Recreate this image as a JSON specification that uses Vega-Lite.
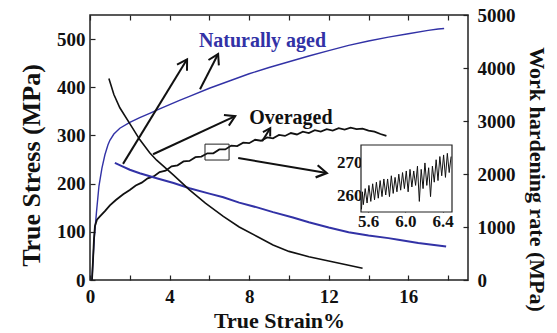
{
  "$schema": "https://vega.github.io/schema/vega-lite/v6.json",
  "width": 378,
  "height": 265,
  "autosize": "none",
  "padding": {"left": 90, "top": 15, "right": 89, "bottom": 53},
  "background": "white",
  "config": {
    "font": "Liberation Serif",
    "view": {"stroke": "#222222", "strokeWidth": 1.5},
    "axis": {
      "grid": false, "domain": false, "tickColor": "#222222", "tickSize": -5, "tickWidth": 1.2,
      "labelColor": "#111111", "titleColor": "#111111",
      "labelFont": "Liberation Serif", "titleFont": "Liberation Serif",
      "labelFontWeight": "bold", "titleFontWeight": "bold",
      "labelFontSize": 19, "titleFontSize": 22,
      "labelOverlap": false, "labelFlush": false
    }
  },
  "datasets": {
    "na_stress": [
      {"strain": 0.1, "stress": 0}, {"strain": 0.15, "stress": 40}, {"strain": 0.22, "stress": 90},
      {"strain": 0.33, "stress": 143}, {"strain": 0.45, "stress": 195}, {"strain": 0.6, "stress": 232},
      {"strain": 0.75, "stress": 260}, {"strain": 0.9, "stress": 280}, {"strain": 1.0, "stress": 290},
      {"strain": 1.2, "stress": 303}, {"strain": 1.5, "stress": 315}, {"strain": 2.0, "stress": 327},
      {"strain": 2.5, "stress": 337}, {"strain": 3.0, "stress": 346}, {"strain": 3.5, "stress": 355},
      {"strain": 4.0, "stress": 364}, {"strain": 4.5, "stress": 373}, {"strain": 5.0, "stress": 381},
      {"strain": 6.0, "stress": 398}, {"strain": 7.0, "stress": 413}, {"strain": 8.0, "stress": 428},
      {"strain": 9.0, "stress": 441}, {"strain": 10.0, "stress": 453}, {"strain": 11.0, "stress": 465},
      {"strain": 12.0, "stress": 476}, {"strain": 13.0, "stress": 487}, {"strain": 14.0, "stress": 496},
      {"strain": 15.0, "stress": 504}, {"strain": 16.0, "stress": 511}, {"strain": 17.0, "stress": 518},
      {"strain": 17.5, "stress": 521}, {"strain": 17.8, "stress": 522}
    ],
    "oa_stress": [
      {"strain": 0.1, "stress": 0}, {"strain": 0.15, "stress": 40}, {"strain": 0.2, "stress": 85},
      {"strain": 0.25, "stress": 112}, {"strain": 0.35, "stress": 125}, {"strain": 0.5, "stress": 132},
      {"strain": 0.75, "stress": 143}, {"strain": 1.0, "stress": 155}, {"strain": 1.3, "stress": 166},
      {"strain": 1.67, "stress": 178}, {"strain": 2.0, "stress": 187}, {"strain": 2.3, "stress": 196},
      {"strain": 2.6, "stress": 202}, {"strain": 2.9, "stress": 211}, {"strain": 3.2, "stress": 215},
      {"strain": 3.5, "stress": 224}, {"strain": 3.8, "stress": 227}, {"strain": 4.1, "stress": 236},
      {"strain": 4.4, "stress": 238}, {"strain": 4.7, "stress": 246}, {"strain": 5.0, "stress": 247},
      {"strain": 5.3, "stress": 255}, {"strain": 5.6, "stress": 256}, {"strain": 5.9, "stress": 263},
      {"strain": 6.2, "stress": 263}, {"strain": 6.5, "stress": 271}, {"strain": 6.8, "stress": 271},
      {"strain": 7.1, "stress": 279}, {"strain": 7.4, "stress": 278}, {"strain": 7.7, "stress": 285},
      {"strain": 8.0, "stress": 284}, {"strain": 8.3, "stress": 291}, {"strain": 8.6, "stress": 289},
      {"strain": 8.9, "stress": 296}, {"strain": 9.2, "stress": 294}, {"strain": 9.5, "stress": 301},
      {"strain": 9.8, "stress": 299}, {"strain": 10.1, "stress": 305}, {"strain": 10.4, "stress": 302},
      {"strain": 10.7, "stress": 308}, {"strain": 11.0, "stress": 305}, {"strain": 11.3, "stress": 311},
      {"strain": 11.6, "stress": 308}, {"strain": 11.9, "stress": 313}, {"strain": 12.2, "stress": 310},
      {"strain": 12.5, "stress": 315}, {"strain": 12.8, "stress": 312}, {"strain": 13.1, "stress": 316},
      {"strain": 13.4, "stress": 313}, {"strain": 13.7, "stress": 314}, {"strain": 14.0, "stress": 310},
      {"strain": 14.3, "stress": 308}, {"strain": 14.6, "stress": 303}, {"strain": 14.9, "stress": 299}
    ],
    "na_whr": [
      {"strain": 1.25, "rate": 2210}, {"strain": 1.6, "rate": 2150}, {"strain": 2.0, "rate": 2080},
      {"strain": 2.5, "rate": 2015}, {"strain": 3.35, "rate": 1920}, {"strain": 4.2, "rate": 1830},
      {"strain": 5.0, "rate": 1730}, {"strain": 6.0, "rate": 1630}, {"strain": 6.7, "rate": 1560},
      {"strain": 7.5, "rate": 1460}, {"strain": 8.4, "rate": 1370}, {"strain": 9.2, "rate": 1280},
      {"strain": 10.2, "rate": 1180}, {"strain": 11.0, "rate": 1090}, {"strain": 12.0, "rate": 990},
      {"strain": 13.0, "rate": 900}, {"strain": 14.0, "rate": 840}, {"strain": 15.0, "rate": 790},
      {"strain": 15.5, "rate": 760}, {"strain": 16.5, "rate": 700}, {"strain": 17.9, "rate": 630}
    ],
    "oa_whr": [
      {"strain": 0.95, "rate": 3800}, {"strain": 1.2, "rate": 3500}, {"strain": 1.5, "rate": 3250},
      {"strain": 2.0, "rate": 2950}, {"strain": 2.5, "rate": 2650}, {"strain": 3.0, "rate": 2400},
      {"strain": 3.35, "rate": 2260}, {"strain": 4.2, "rate": 1980}, {"strain": 5.0, "rate": 1700},
      {"strain": 5.8, "rate": 1450}, {"strain": 6.7, "rate": 1200}, {"strain": 7.5, "rate": 1000},
      {"strain": 8.4, "rate": 820}, {"strain": 9.2, "rate": 660}, {"strain": 10.0, "rate": 540},
      {"strain": 11.0, "rate": 440}, {"strain": 12.0, "rate": 360}, {"strain": 13.0, "rate": 280},
      {"strain": 13.7, "rate": 220}
    ],
    "arrows": [
      {"id": "A", "x1": 1.66, "y1": 241, "x2": 4.88, "y2": 458},
      {"id": "B", "x1": 5.53, "y1": 396, "x2": 6.44, "y2": 469},
      {"id": "C", "x1": 3.17, "y1": 261, "x2": 7.3, "y2": 340},
      {"id": "D", "x1": 8.65, "y1": 288, "x2": 9.06, "y2": 315},
      {"id": "E", "x1": 7.45, "y1": 253, "x2": 11.9, "y2": 222}
    ],
    "inset": [
      {"strain": 5.53, "stress": 255.5}, {"strain": 5.54, "stress": 261}, {"strain": 5.55, "stress": 257},
      {"strain": 5.57, "stress": 262}, {"strain": 5.59, "stress": 257.5}, {"strain": 5.61, "stress": 263},
      {"strain": 5.63, "stress": 258}, {"strain": 5.65, "stress": 263.5}, {"strain": 5.67, "stress": 258.5},
      {"strain": 5.69, "stress": 264}, {"strain": 5.71, "stress": 259}, {"strain": 5.73, "stress": 264.5},
      {"strain": 5.75, "stress": 259.5}, {"strain": 5.77, "stress": 265}, {"strain": 5.79, "stress": 260},
      {"strain": 5.81, "stress": 265}, {"strain": 5.83, "stress": 259.5}, {"strain": 5.85, "stress": 266},
      {"strain": 5.87, "stress": 260.5}, {"strain": 5.89, "stress": 265.5}, {"strain": 5.91, "stress": 261},
      {"strain": 5.93, "stress": 266.5}, {"strain": 5.95, "stress": 261.5}, {"strain": 5.97, "stress": 267},
      {"strain": 5.99, "stress": 262}, {"strain": 6.01, "stress": 267.5}, {"strain": 6.03, "stress": 261},
      {"strain": 6.05, "stress": 268}, {"strain": 6.07, "stress": 262.5}, {"strain": 6.09, "stress": 267.5},
      {"strain": 6.11, "stress": 263}, {"strain": 6.13, "stress": 269}, {"strain": 6.15, "stress": 258},
      {"strain": 6.17, "stress": 268}, {"strain": 6.19, "stress": 262}, {"strain": 6.21, "stress": 270},
      {"strain": 6.23, "stress": 263}, {"strain": 6.25, "stress": 268.5}, {"strain": 6.27, "stress": 259.5},
      {"strain": 6.29, "stress": 269}, {"strain": 6.31, "stress": 264}, {"strain": 6.33, "stress": 271},
      {"strain": 6.35, "stress": 264.5}, {"strain": 6.37, "stress": 272}, {"strain": 6.39, "stress": 266},
      {"strain": 6.41, "stress": 272.5}, {"strain": 6.43, "stress": 265.5}, {"strain": 6.45, "stress": 273},
      {"strain": 6.47, "stress": 267}, {"strain": 6.49, "stress": 272}
    ]
  },
  "layer": [
    {
      "layer": [
        {
          "layer": [
            {
              "data": {"name": "na_stress"},
              "mark": {"type": "line", "color": "#3232a6", "strokeWidth": 1.4},
              "encoding": {
                "x": {"field": "strain", "type": "quantitative", "scale": {"domain": [0, 19], "nice": false},
                  "axis": {"orient": "bottom", "values": [0, 2, 4, 6, 8, 10, 12, 14, 16, 18],
                    "labelExpr": "datum.value % 4 === 0 ? datum.label : ''", "labelPadding": 12,
                    "title": "True Strain%", "titleFontSize": 22, "titlePadding": 4}},
                "y": {"field": "stress", "type": "quantitative", "scale": {"domain": [0, 550], "nice": false},
                  "axis": {"orient": "left", "values": [0, 50, 100, 150, 200, 250, 300, 350, 400, 450, 500],
                    "labelExpr": "datum.value % 100 === 0 ? datum.label : ''", "labelPadding": 10,
                    "title": "True Stress (MPa)", "titleFontSize": 26, "titlePadding": 12, "titleY": 150}}
              }
            },
            {
              "data": {"name": "oa_stress"},
              "mark": {"type": "line", "color": "#111111", "strokeWidth": 1.8},
              "encoding": {
                "x": {"field": "strain", "type": "quantitative"},
                "y": {"field": "stress", "type": "quantitative"}
              }
            },
            {
              "data": {"name": "arrows"},
              "mark": {"type": "rule", "color": "#111111", "strokeWidth": 2},
              "encoding": {
                "x": {"field": "x1", "type": "quantitative"},
                "y": {"field": "y1", "type": "quantitative"},
                "x2": {"field": "x2"},
                "y2": {"field": "y2"}
              }
            },
            {
              "data": {"name": "arrows"},
              "transform": [{"filter": "datum.id === 'A'"}],
              "mark": {"type": "point", "shape": "M-1,-0.6L0,0L-1,0.6", "filled": false, "stroke": "#111111", "strokeWidth": 2, "size": 380, "angle": 301.4, "opacity": 1},
              "encoding": {"x": {"field": "x2", "type": "quantitative"}, "y": {"field": "y2", "type": "quantitative"}}
            },
            {
              "data": {"name": "arrows"},
              "transform": [{"filter": "datum.id === 'B'"}],
              "mark": {"type": "point", "shape": "M-1,-0.6L0,0L-1,0.6", "filled": false, "stroke": "#111111", "strokeWidth": 2, "size": 380, "angle": 297.2, "opacity": 1},
              "encoding": {"x": {"field": "x2", "type": "quantitative"}, "y": {"field": "y2", "type": "quantitative"}}
            },
            {
              "data": {"name": "arrows"},
              "transform": [{"filter": "datum.id === 'C'"}],
              "mark": {"type": "point", "shape": "M-1,-0.6L0,0L-1,0.6", "filled": false, "stroke": "#111111", "strokeWidth": 2, "size": 380, "angle": 335.1, "opacity": 1},
              "encoding": {"x": {"field": "x2", "type": "quantitative"}, "y": {"field": "y2", "type": "quantitative"}}
            },
            {
              "data": {"name": "arrows"},
              "transform": [{"filter": "datum.id === 'D'"}],
              "mark": {"type": "point", "shape": "M-1,-0.6L0,0L-1,0.6", "filled": false, "stroke": "#111111", "strokeWidth": 2, "size": 200, "angle": 301.6, "opacity": 1},
              "encoding": {"x": {"field": "x2", "type": "quantitative"}, "y": {"field": "y2", "type": "quantitative"}}
            },
            {
              "data": {"name": "arrows"},
              "transform": [{"filter": "datum.id === 'E'"}],
              "mark": {"type": "point", "shape": "M-1,-0.6L0,0L-1,0.6", "filled": false, "stroke": "#111111", "strokeWidth": 2.2, "size": 420, "angle": 9.6, "opacity": 1},
              "encoding": {"x": {"field": "x2", "type": "quantitative"}, "y": {"field": "y2", "type": "quantitative"}}
            },
            {
              "data": {"values": [{"xa": 5.78, "xb": 6.99, "ya": 249, "yb": 282}]},
              "mark": {"type": "rect", "fill": null, "fillOpacity": 0, "stroke": "#222222", "strokeWidth": 1},
              "encoding": {
                "x": {"field": "xa", "type": "quantitative"}, "x2": {"field": "xb"},
                "y": {"field": "ya", "type": "quantitative"}, "y2": {"field": "yb"}
              }
            },
            {
              "data": {"values": [{"tx": 8.67, "ty": 496, "label": "Naturally aged"}]},
              "mark": {"type": "text", "color": "#3232a6", "font": "Liberation Serif", "fontWeight": "bold", "fontSize": 20, "align": "center", "baseline": "middle"},
              "encoding": {
                "x": {"field": "tx", "type": "quantitative"}, "y": {"field": "ty", "type": "quantitative"},
                "text": {"field": "label"}
              }
            },
            {
              "data": {"values": [{"tx": 10.1, "ty": 336, "label": "Overaged"}]},
              "mark": {"type": "text", "color": "#111111", "font": "Liberation Serif", "fontWeight": "bold", "fontSize": 20, "align": "center", "baseline": "middle"},
              "encoding": {
                "x": {"field": "tx", "type": "quantitative"}, "y": {"field": "ty", "type": "quantitative"},
                "text": {"field": "label"}
              }
            }
          ]
        },
        {
          "layer": [
            {
              "data": {"name": "na_whr"},
              "mark": {"type": "line", "color": "#3232a6", "strokeWidth": 2},
              "encoding": {
                "x": {"field": "strain", "type": "quantitative", "scale": {"domain": [0, 19], "nice": false},
                  "axis": {"orient": "top", "values": [0, 2, 4, 6, 8, 10, 12, 14, 16, 18], "labels": false, "title": null}},
                "y": {"field": "rate", "type": "quantitative", "scale": {"domain": [0, 5000], "nice": false},
                  "axis": {"orient": "right", "values": [0, 500, 1000, 1500, 2000, 2500, 3000, 3500, 4000, 4500, 5000],
                    "labelExpr": "datum.value % 1000 === 0 ? datum.label : ''", "format": "d", "labelPadding": 14,
                    "title": "Work hardening rate (MPa)", "titleFontSize": 22, "titlePadding": 9, "titleY": 164}}
              }
            },
            {
              "data": {"name": "oa_whr"},
              "mark": {"type": "line", "color": "#111111", "strokeWidth": 1.6},
              "encoding": {
                "x": {"field": "strain", "type": "quantitative"},
                "y": {"field": "rate", "type": "quantitative"}
              }
            }
          ]
        }
      ],
      "resolve": {"scale": {"y": "independent"}, "axis": {"x": "independent", "y": "independent"}}
    },
    {
      "layer": [
        {
          "data": {"values": [{"xa": 5.525, "xb": 6.5, "ya": 254.7, "yb": 275.6}]},
          "mark": {"type": "rect", "fill": "white", "stroke": "#222222", "strokeWidth": 1.2},
          "encoding": {
            "x": {"field": "xa", "type": "quantitative",
              "scale": {"domain": [5.525, 6.5], "nice": false, "zero": false, "range": [271, 362]},
              "axis": {"orient": "bottom", "offset": -68, "values": [5.6, 6.0, 6.4], "format": ".1f", "tickSize": -3, "labelPadding": 4, "labelFontSize": 17, "title": null}},
            "x2": {"field": "xb"},
            "y": {"field": "ya", "type": "quantitative",
              "scale": {"domain": [254.7, 275.6], "nice": false, "zero": false, "range": [197, 130]},
              "axis": {"orient": "left", "offset": -271, "values": [260, 270], "tickSize": -3, "labelPadding": 2, "labelFontSize": 17, "title": null}},
            "y2": {"field": "yb"}
          }
        },
        {
          "data": {"name": "inset"},
          "mark": {"type": "line", "color": "#111111", "strokeWidth": 1},
          "encoding": {
            "x": {"field": "strain", "type": "quantitative"},
            "y": {"field": "stress", "type": "quantitative"}
          }
        }
      ]
    }
  ],
  "resolve": {"scale": {"x": "independent", "y": "independent"}, "axis": {"x": "independent", "y": "independent"}}
}
